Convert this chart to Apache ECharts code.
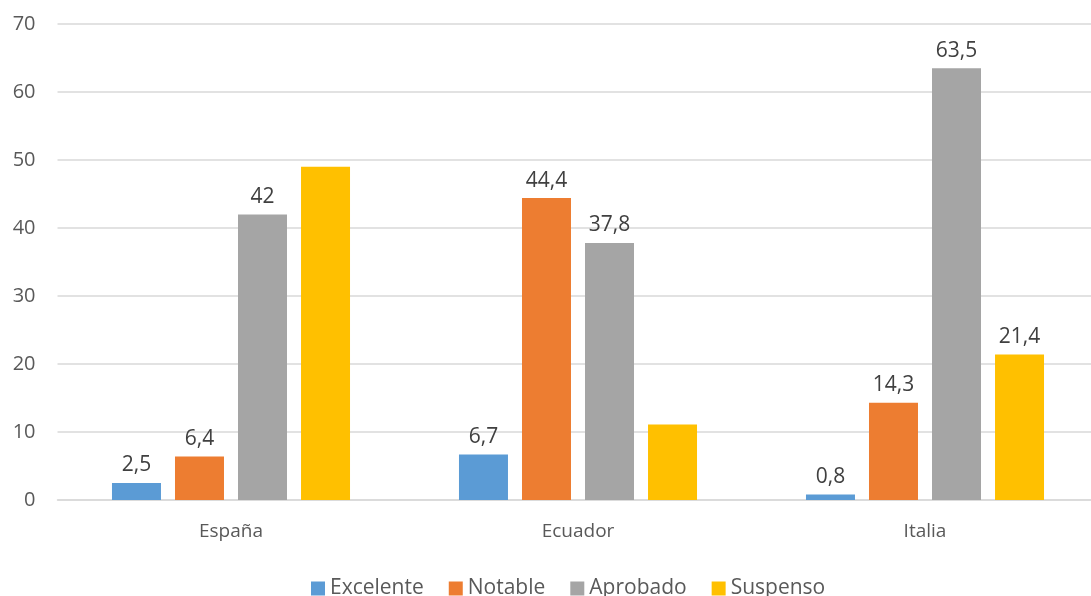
<!DOCTYPE html>
<html><head><meta charset="utf-8">
<script src="https://cdn.jsdelivr.net/npm/echarts@6/dist/echarts.min.js"></script>
<style>html,body{margin:0;padding:0;background:#fff}#c{width:1091px;height:596px}</style>
</head><body><div id="c"></div>
<script>
const categories = ['España', 'Ecuador', 'Italia'];
const seriesNames = ['Excelente', 'Notable', 'Aprobado', 'Suspenso'];
const excelente = [2.5, 6.7, 0.8];
const notable = [6.4, 44.4, 14.3];
const aprobado = [42, 37.8, 63.5];
const suspenso = [49, 11.1, 21.4];
const suspensoShowLabel = [false, false, true];
const yTicks = [0, 10, 20, 30, 40, 50, 60, 70];
const colors = ['#5B9BD5', '#ED7D31', '#A5A5A5', '#FFC000'];

const fmt = v => String(v).replace('.', ',');
const font = '"Open Sans", "Noto Sans", sans-serif';
const labelStyle = {show: true, position: 'top', distance: 7, color: '#404040', fontSize: 21, fontFamily: font, formatter: p => fmt(p.value)};

function mk(name, data, color, showFlags) {
  return {
    name, type: 'bar', barWidth: 49, barGap: '28.6%', barCategoryGap: '31.4%',
    itemStyle: {color},
    label: labelStyle,
    data: data.map((v, i) => showFlags ? {value: v, label: {show: showFlags[i]}} : v)
  };
}

const chart = echarts.init(document.getElementById('c'));
chart.setOption({
  animation: false,
  grid: {left: 57.5, right: -7.5, top: 24, bottom: 96, containLabel: false, outerBoundsMode: 'none'},
  legend: {top: 573, left: 306, itemWidth: 14, itemHeight: 14, itemGap: 25, icon: 'rect',
    textStyle: {color: '#595959', fontSize: 21, fontFamily: font}, data: seriesNames},
  xAxis: {type: 'category', data: categories,
    axisLine: {lineStyle: {color: '#D9D9D9', width: 1.5}}, axisTick: {show: false},
    axisLabel: {color: '#595959', fontSize: 19, fontFamily: font, margin: 22}},
  yAxis: {type: 'value', min: yTicks[0], max: yTicks[yTicks.length - 1], interval: 10,
    axisLine: {show: false}, axisTick: {show: false},
    splitLine: {lineStyle: {color: '#D9D9D9', width: 1.5}},
    axisLabel: {color: '#595959', fontSize: 20, fontFamily: font, margin: 22}},
  series: [
    mk(seriesNames[0], excelente, colors[0]),
    mk(seriesNames[1], notable, colors[1]),
    mk(seriesNames[2], aprobado, colors[2]),
    mk(seriesNames[3], suspenso, colors[3], suspensoShowLabel)
  ]
});
</script></body></html>
